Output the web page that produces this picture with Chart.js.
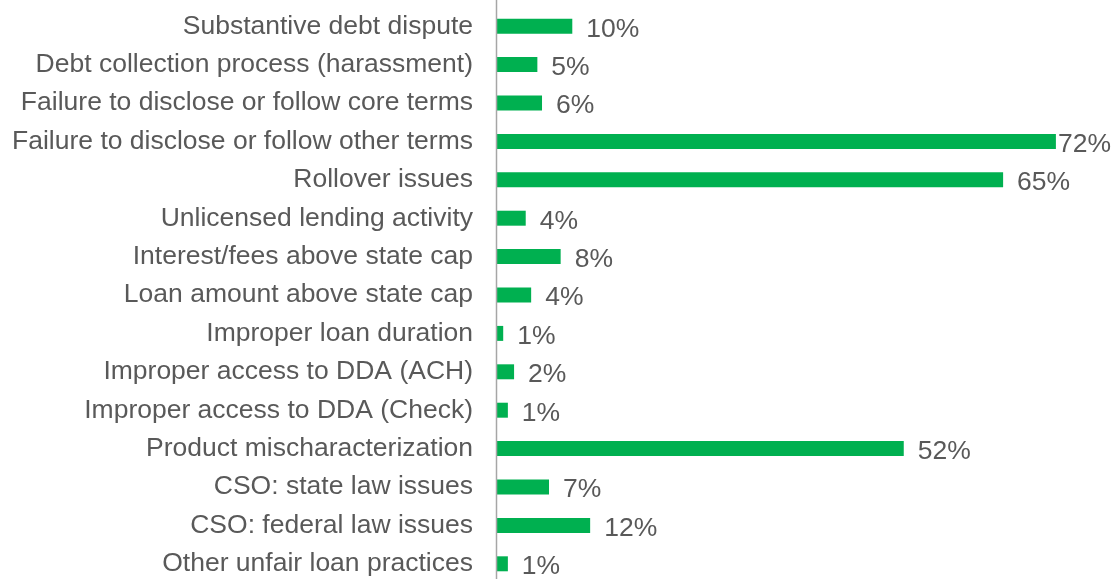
<!DOCTYPE html>
<html>
<head>
<meta charset="utf-8">
<script src="https://cdn.jsdelivr.net/npm/chart.js@4"></script>
<style>
  html, body { margin: 0; padding: 0; background: #ffffff; overflow: hidden; }
  #wrap { width: 1119px; height: 584px; position: relative; }
</style>
</head>
<body>
<div id="wrap"><canvas id="c"></canvas></div>
<script>
const categories = [
  "Substantive debt dispute",
  "Debt collection process (harassment)",
  "Failure to disclose or follow core terms",
  "Failure to disclose or follow other terms",
  "Rollover issues",
  "Unlicensed lending activity",
  "Interest/fees above state cap",
  "Loan amount above state cap",
  "Improper loan duration",
  "Improper access to DDA (ACH)",
  "Improper access to DDA (Check)",
  "Product mischaracterization",
  "CSO: state law issues",
  "CSO: federal law issues",
  "Other unfair loan practices"
];
const values = [9.7, 5.2, 5.8, 72, 65.2, 3.7, 8.2, 4.4, 0.8, 2.2, 1.4, 52.4, 6.7, 12.0, 1.4];
const valueLabels = ["10%", "5%", "6%", "72%", "65%", "4%", "8%", "4%", "1%", "2%", "1%", "52%", "7%", "12%", "1%"];
const xMax = 80;

const FONT = "'Liberation Sans', Arial, sans-serif";
const TEXT = "#595959";

const axisLine = {
  id: 'axisLine',
  afterDraw(chart) {
    const ctx = chart.ctx;
    const x = chart.chartArea.left - 0.5;
    ctx.save();
    ctx.strokeStyle = '#a6a6a6';
    ctx.lineWidth = 1.5;
    ctx.beginPath();
    ctx.moveTo(x, 0);
    ctx.lineTo(x, chart.height);
    ctx.stroke();
    ctx.restore();
  }
};

const valueLabelPlugin = {
  id: 'valueLabels',
  afterDatasetsDraw(chart) {
    const ctx = chart.ctx;
    const meta = chart.getDatasetMeta(0);
    ctx.save();
    ctx.font = "26.5px " + FONT;
    ctx.fillStyle = TEXT;
    ctx.textAlign = 'left';
    ctx.textBaseline = 'middle';
    meta.data.forEach((el, i) => {
      const t = valueLabels[i];
      const w = ctx.measureText(t).width;
      let x = el.x + 14;
      if (x + w > 1111) x = 1111 - w;
      ctx.fillText(t, x, el.y + 3);
    });
    ctx.restore();
  }
};

new Chart(document.getElementById('c'), {
  type: 'bar',
  data: {
    labels: categories,
    datasets: [{
      data: values,
      backgroundColor: '#00b050',
      borderWidth: 0,
      barPercentage: 0.39,
      categoryPercentage: 1.0
    }]
  },
  options: {
    indexAxis: 'y',
    responsive: true,
    maintainAspectRatio: false,
    animation: false,
    layout: { padding: { top: 7, bottom: 1, left: 0, right: 1 } },
    plugins: { legend: { display: false }, tooltip: { enabled: false } },
    scales: {
      x: {
        display: false,
        min: 0,
        max: xMax
      },
      y: {
        grid: { display: false, drawTicks: false },
        border: { display: false },
        ticks: {
          color: TEXT,
          font: { family: FONT, size: 26.5 },
          padding: 24,
          autoSkip: false
        },
        afterFit(scale) {
          scale.width = 497;
          scale.paddingTop = 0;
          scale.paddingBottom = 0;
        }
      }
    }
  },
  plugins: [axisLine, valueLabelPlugin]
});
</script>
</body>
</html>
